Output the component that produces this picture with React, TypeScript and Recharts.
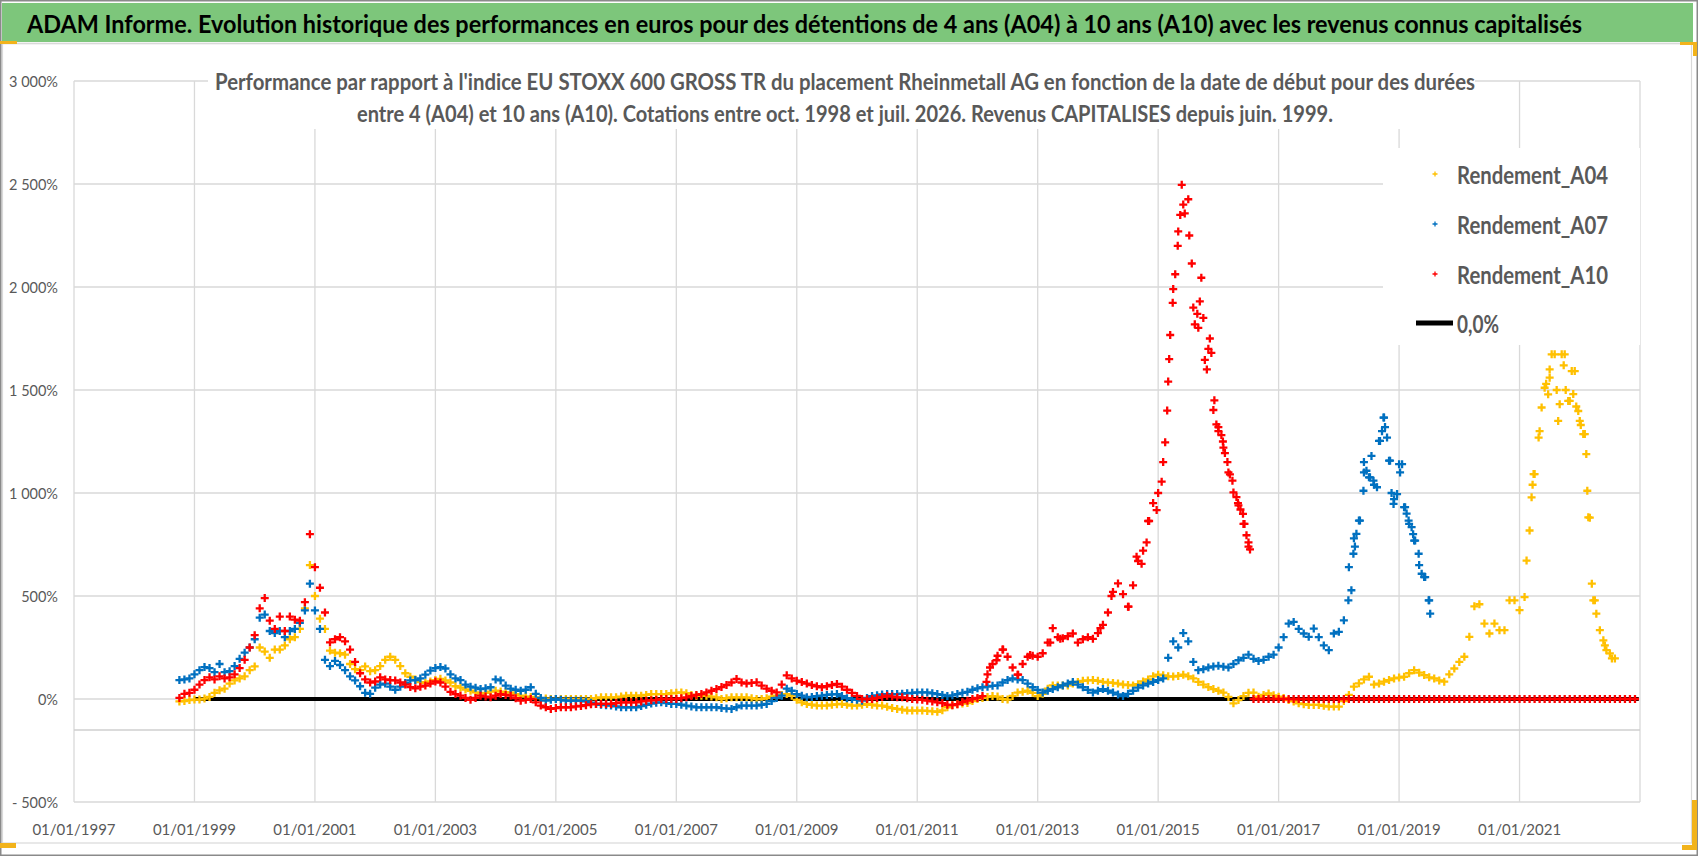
import React from "react";
import {
  CartesianGrid,
  Legend,
  ReferenceLine,
  Scatter,
  ScatterChart,
  XAxis,
  YAxis,
} from "recharts";

const W = 1698;
const H = 856;

// first quoted month (oct. 1998) as a decimal year
const START = 1998.75;

const yearTicks = [1997, 1999, 2001, 2003, 2005, 2007, 2009, 2011, 2013, 2015, 2017, 2019, 2021];
const pctTicks = [-500, 0, 500, 1000, 1500, 2000, 2500, 3000];

// monthly readings in % (each line = 12 months starting in oct.)
const a04Monthly = [
  -12, -10, -5, -3, -3, 2, 10, 30, 42, 50, 75, 90,
  100, 110, 140, 158, 250, 230, 200, 240, 240, 260, 290, 300,
  340, 440, 650, 500, 390, 340, 235, 225, 222, 215, 170, 145,
  140, 158, 135, 140, 160, 190, 205, 190, 160, 125, 108, 95,
  82, 78, 85, 92, 98, 90, 80, 62, 55, 46, 40, 32,
  26, 30, 36, 40, 36, 32, 32, 24, 16, 12, 10, 8,
  4, 2, 0, 0, 0, 0, 0, 0, 0, 0, 0, 4,
  8, 8, 8, 8, 12, 16, 16, 16, 16, 20, 24, 24,
  24, 24, 28, 30, 32, 28, 20, 16, 16, 16, 12, 8,
  0, 4, 8, 8, 8, 8, 4, 0, 0, 4, 12, 16,
  20, 24, 16, -4, -16, -24, -28, -32, -32, -32, -28, -26,
  -24, -28, -32, -32, -28, -24, -28, -32, -32, -38, -44, -48,
  -52, -56, -56, -56, -56, -58, -60, -62, -55, -40, -30, -25,
  -22, -20, -10, 0, 5, 10, 14, 12, 0, -3, 15, 31,
  35, 40, 30, 14, 25, 50, 66, 66, 66, 66, 75, 83,
  88, 90, 92, 88, 83, 80, 78, 75, 70, 68, 66, 72,
  85, 95, 110, 118, 115, 110, 109, 112, 118, 110, 100, 83,
  70, 58, 48, 40, 31, 10, -21, -5, 14, 30, 31, 11,
  20, 27, 18, 11, 5, -5, -12, -21, -25, -29, -29, -29,
  -33, -37, -37, -37, -10, 20, 60, 76, 95, 108, 70, 75,
  84, 92, 100, 104, 108, 125, 140, 128, 116, 105, 100, 90,
  84, 120, 148, 180, 205, 302, 450, 460, 366, 318, 366, 334,
  334, 479, 479, 431, 495, 818, 1092, 1300, 1511, 1560, 1673, 1431,
  1673, 1447, 1592, 1350, 1286, 880, 479, 334, 260, 221, 197,
];

const a07Monthly = [
  92, 95, 100, 120, 140, 155, 150, 130, 170, 130, 135, 160,
  195, 225, 250, 290, 395, 410, 330, 320, 330, 300, 330, 340,
  370, 430, 560, 430, 340, 190, 160, 185, 165, 140, 110, 90,
  62, 30, 25, 55, 70, 75, 60, 45, 60, 78, 90, 92,
  100, 118, 138, 150, 155, 148, 120, 100, 92, 70, 60, 55,
  48, 52, 57, 95, 90, 65, 50, 45, 40, 45, 57, 25,
  5, -8, -4, 0, -4, -8, -8, -8, -8, -12, -18, -24,
  -28, -30, -32, -36, -40, -40, -40, -40, -34, -28, -22, -18,
  -16, -20, -24, -24, -28, -32, -36, -40, -40, -40, -40, -40,
  -44, -46, -48, -40, -32, -32, -32, -32, -28, -24, -10, 5,
  16, 50, 40, 24, 16, 8, 10, 14, 16, 20, 22, 24,
  14, 4, 0, -4, -8, 5, 14, 18, 22, 24, 24, 24,
  26, 28, 30, 32, 32, 32, 28, 24, 20, 14, 18, 24,
  30, 35, 45, 52, 57, 60, 64, 66, 80, 92, 100, 95,
  92, 75, 57, 44, 31, 40, 48, 57, 66, 75, 83, 70,
  57, 44, 31, 40, 48, 40, 31, 22, 14, 25, 40, 55,
  66, 75, 83, 92, 100, 200, 280, 250, 320, 280, 180, 140,
  145, 153, 158, 161, 157, 153, 170, 188, 200, 215, 195, 185,
  190, 205, 215, 250, 300, 366, 374, 340, 318, 302, 342, 300,
  260, 237, 318, 326, 382, 640, 780, 866, 1100, 1076, 1040, 1253,
  1366, 1157, 970, 1140, 931, 850, 769, 650, 592, 479,
];

const a10Monthly = [
  5, 25, 30, 45, 70, 92, 105, 95, 110, 100, 105, 120,
  150, 190, 250, 310, 440, 490, 380, 340, 400, 330, 400, 385,
  380, 470, 800, 640, 540, 420, 275, 290, 300, 280, 240, 180,
  125, 95, 80, 85, 105, 95, 92, 90, 80, 70, 58, 52,
  60, 65, 75, 85, 80, 60, 35, 24, 16, 5, -4, 5,
  16, 12, 8, 16, 24, 20, 16, 4, -8, -4, 0, -16,
  -32, -40, -48, -44, -40, -40, -40, -36, -34, -30, -26, -24,
  -24, -24, -24, -20, -16, -16, -16, -16, -12, -8, -6, -4,
  0, 0, 0, 0, 4, 8, 14, 20, 24, 32, 40, 48,
  58, 68, 80, 97, 80, 75, 78, 81, 65, 50, 40, 32,
  70, 115, 100, 89, 82, 75, 68, 62, 57, 62, 68, 73,
  60, 45, 30, 15, 0, 0, 0, 5, 10, 16, 12, 8,
  8, 4, 0, -2, -4, -8, -12, -16, -20, -28, -30, -25,
  -15, -8, 0, 5, 14, 120, 170, 210, 240, 205, 153, 118,
  170, 205, 210, 205, 222, 274, 344, 300, 295, 305, 318, 274,
  290, 300, 292, 320, 360, 420, 520, 561, 509, 448, 552, 670,
  720, 864, 951, 1000, 1150, 1541, 1990, 2270, 2400, 2426, 1900, 1802,
  1850, 1700, 1403, 1300, 1220, 1100, 1003, 940, 850, 740,
];

// A10 after juil. 2016: no 10-year window yet, plotted at 0
const a10Zeros = [
  0, 0, 0, 0, 0, 0, 0, 0, 0, 0, 0, 0,
  0, 0, 0, 0, 0, 0, 0, 0, 0, 0, 0, 0,
  0, 0, 0, 0, 0, 0, 0, 0, 0, 0, 0, 0,
  0, 0, 0, 0, 0, 0, 0, 0, 0, 0, 0, 0,
  0, 0, 0, 0, 0, 0, 0, 0, 0, 0, 0, 0,
  0, 0, 0, 0, 0, 0, 0, 0, 0, 0, 0, 0,
  0, 0, 0, 0, 0,
];

// extra readings inside the peaks: [months since oct. 1998, %]
const a04Peak = [
  [268.4, 672], [269.4, 979], [269.6, 1040], [269.8, 1092], [270.8, 1269], [271.4, 1415],
  [272.3, 1530], [272.7, 1479], [273.0, 1600], [273.4, 1673], [274.4, 1500], [274.7, 1350],
  [275.4, 1673], [275.8, 1620], [276.2, 1500], [276.7, 1447], [277.4, 1592], [277.7, 1480],
  [278.3, 1420], [278.7, 1398], [279.2, 1330], [279.7, 1286], [280.3, 1189], [280.5, 1011],
  [280.7, 882], [281.4, 560], [281.7, 479], [282.3, 414], [283.7, 285], [284.3, 237], [285.4, 197],
];

const a07Peak = [
  [232.9, 479], [233.5, 528], [233.9, 705], [234.2, 740], [234.5, 802], [235.2, 866],
  [235.9, 1011], [236.0, 1150], [236.5, 1108], [237.2, 1076], [237.5, 1180], [237.9, 1060],
  [238.6, 1028], [239.2, 1253], [239.6, 1300], [239.9, 1366], [240.2, 1320], [240.6, 1269],
  [241.2, 1157], [241.5, 1000], [241.9, 947], [242.6, 995], [243.2, 1100], [243.6, 1140],
  [244.2, 931], [244.5, 900], [244.9, 866], [245.5, 834], [245.8, 800], [246.2, 769],
  [246.9, 705], [247.5, 608], [248.2, 592], [248.9, 479], [249.2, 414],
];

const a10Peak = [
  [160.8, 83], [161.5, 153], [162.8, 188], [164.1, 240], [167.1, 118], [169.5, 214],
  [173.5, 274], [175.5, 292], [183.5, 344], [185.7, 500], [189.1, 448], [190.7, 691],
  [191.7, 656], [192.7, 760], [193.2, 864], [194.7, 917], [195.7, 1055], [196.4, 1246],
  [196.8, 1400], [197.2, 1650], [197.4, 1767], [197.9, 1923], [198.4, 2062], [198.9, 2200],
  [199.4, 2350], [199.7, 2496], [200.3, 2357], [201.2, 2250], [201.7, 2114], [202.3, 1819],
  [202.8, 1870], [203.3, 1930], [203.6, 2045], [204.3, 1646], [204.7, 1600], [205.3, 1750],
  [205.6, 1680], [206.2, 1450], [206.6, 1333], [207.0, 1320], [207.6, 1281], [207.9, 1250],
  [208.3, 1194], [208.8, 1150], [209.3, 1090], [209.8, 1060], [210.6, 980], [210.9, 951],
  [211.4, 920], [211.9, 899], [212.2, 850], [212.6, 795], [213.0, 760], [213.3, 726],
];

// the "0,0%" series runs from janv. 1999 to the last date
const zeroSpan = [1999.0, 2022.98];

const series = [
  { name: "Rendement_A04", color: "#FFC000" },
  { name: "Rendement_A07", color: "#0070C0" },
  { name: "Rendement_A10", color: "#FF0000" },
];

const monthX = (m: number) => START + m / 12;
const fromMonthly = (vals: number[], first = 0) =>
  vals.map((y, i) => ({ x: monthX(first + i), y }));
const fromPairs = (pairs: number[][]) => pairs.map(([m, y]) => ({ x: monthX(m), y }));

const a04Data = [...fromMonthly(a04Monthly), ...fromPairs(a04Peak)];
const a07Data = [...fromMonthly(a07Monthly), ...fromPairs(a07Peak)];
const a10Data = [
  ...fromMonthly(a10Monthly),
  ...fromMonthly(a10Zeros, a10Monthly.length),
  ...fromPairs(a10Peak),
];
const zeroData = zeroSpan.map((x) => ({ x, y: 0 }));

const GREY = "#595959";

const plus = (color: string, r = 4, w = 2.3) => (props: any) => {
  const { cx, cy } = props;
  if (cx == null || cy == null) return <g />;
  return (
    <path
      d={`M${cx - r},${cy}H${cx + r}M${cx},${cy - r}V${cy + r}`}
      stroke={color}
      strokeWidth={w}
      fill="none"
    />
  );
};

const pctLabel = (v: number) => {
  const a = Math.abs(v);
  const s = a >= 1000 ? `${Math.floor(a / 1000)} ${String(a % 1000).padStart(3, "0")}` : String(a);
  return (v < 0 ? "- " : "") + s + "%";
};

const XTick = ({ x, payload }: any) => (
  <text x={x} y={829} textAnchor="middle" dominantBaseline="central" fontSize={15} fill={GREY}>
    {`01/01/${payload.value}`}
  </text>
);

const YTick = ({ y, payload }: any) => (
  <text x={58} y={y} textAnchor="end" dominantBaseline="central" fontSize={14.5} fill={GREY}>
    {pctLabel(payload.value)}
  </text>
);

const LegendBox = () => (
  <svg width={257} height={197} style={{ display: "block" }}>
    {series.map((s, i) => {
      const cy = 26 + i * 50;
      return (
        <g key={s.name}>
          <path d={`M49.5,${cy}H54.5M52,${cy - 2.5}V${cy + 2.5}`} stroke={s.color} strokeWidth={1.3} />
          <text
            x={74}
            y={cy}
            dominantBaseline="central"
            fontSize={24}
            fontWeight="bold"
            fill={GREY}
            textLength={151}
            lengthAdjust="spacingAndGlyphs"
          >
            {s.name}
          </text>
        </g>
      );
    })}
    <line x1={33} x2={70} y1={175} y2={175} stroke="#000" strokeWidth={5} />
    <text
      x={74}
      y={175}
      dominantBaseline="central"
      fontSize={24}
      fontWeight="bold"
      fill={GREY}
      textLength={42}
      lengthAdjust="spacingAndGlyphs"
    >
      0,0%
    </text>
  </svg>
);

export default function App() {
  return (
    <div
      style={{
        position: "absolute",
        left: 0,
        top: 0,
        width: W,
        height: H,
        background: "#fff",
        fontFamily: "Lato, 'Open Sans', sans-serif",
      }}
    >
      <ScatterChart width={W} height={H} margin={{ top: 81, right: 58, bottom: 14, left: 8 }}>
        <CartesianGrid stroke="#d9d9d9" strokeWidth={1.3} />
        <XAxis
          type="number"
          dataKey="x"
          domain={[1997, 2023]}
          ticks={yearTicks}
          allowDataOverflow
          axisLine={false}
          tickLine={false}
          height={40}
          tick={<XTick />}
        />
        <YAxis
          type="number"
          dataKey="y"
          domain={[-500, 3000]}
          ticks={pctTicks}
          allowDataOverflow
          axisLine={false}
          tickLine={false}
          width={66}
          tick={<YTick />}
        />
        <ReferenceLine y={-150} stroke="#cfcfcf" strokeWidth={1.5} />
        <Scatter
          name="0,0%"
          data={zeroData}
          line={{ stroke: "#000", strokeWidth: 4 }}
          shape={() => <g />}
          isAnimationActive={false}
        />
        <Scatter name={series[0].name} data={a04Data} shape={plus(series[0].color)} isAnimationActive={false} />
        <Scatter name={series[1].name} data={a07Data} shape={plus(series[1].color)} isAnimationActive={false} />
        <Scatter name={series[2].name} data={a10Data} shape={plus(series[2].color)} isAnimationActive={false} />
        <Legend
          layout="horizontal"
          align="center"
          verticalAlign="middle"
          content={() => <LegendBox />}
          wrapperStyle={{ left: 1383, top: 148, width: 257, height: 197, background: "#fff" }}
        />
      </ScatterChart>

      <svg
        width={W}
        height={H}
        style={{ position: "absolute", left: 0, top: 0, pointerEvents: "none" }}
      >
        {/* title band */}
        <rect x={2} y={3} width={1691} height={39} fill="#7dc67b" />
        <text
          transform="translate(27,23) scale(1,1.2)"
          x={0}
          y={0}
          dominantBaseline="central"
          fontSize={21}
          fontWeight="bold"
          fill="#000"
          textLength={1555}
          lengthAdjust="spacingAndGlyphs"
        >
          ADAM Informe. Evolution historique des performances en euros pour des détentions de 4 ans (A04) à 10 ans (A10) avec les revenus connus capitalisés
        </text>
        <line x1={2} x2={1693} y1={43.5} y2={43.5} stroke="#d9d9d9" strokeWidth={1.5} />
        <rect x={2.5} y={43.5} width={1689} height={799.5} fill="none" stroke="#d9d9d9" strokeWidth={1.2} />

        {/* chart title inside the plot */}
        <rect x={208} y={62} width={1267} height={67} fill="#fff" />
        <text
          x={215}
          y={81}
          dominantBaseline="central"
          fontSize={22}
          fontWeight="bold"
          fill={GREY}
          textLength={1260}
          lengthAdjust="spacingAndGlyphs"
        >
          Performance par rapport à l'indice EU STOXX 600 GROSS TR  du placement Rheinmetall AG en fonction de la date de début pour des durées
        </text>
        <text
          x={357}
          y={113}
          dominantBaseline="central"
          fontSize={22}
          fontWeight="bold"
          fill={GREY}
          textLength={976}
          lengthAdjust="spacingAndGlyphs"
        >
          entre 4 (A04) et 10 ans (A10). Cotations entre oct. 1998 et juil. 2026. Revenus CAPITALISES depuis juin. 1999.
        </text>

        {/* outer frame and selection handles */}
        <rect x={0.75} y={0.75} width={W - 1.5} height={H - 1.5} fill="none" stroke="#8a8a8a" strokeWidth={1.5} />
        <rect x={0} y={41} width={17} height={3} fill="#f2b31b" />
        <rect x={0} y={843} width={16} height={5} fill="#f2b31b" />
        <rect x={1680} y={42} width={17} height={3} fill="#f2b31b" />
        <rect x={1693} y={42} width={4} height={14} fill="#f2b31b" />
        <rect x={1692} y={800} width={5} height={50} fill="#f2b31b" />
        <rect x={1682} y={845} width={15} height={5} fill="#f2b31b" />
      </svg>
    </div>
  );
}
